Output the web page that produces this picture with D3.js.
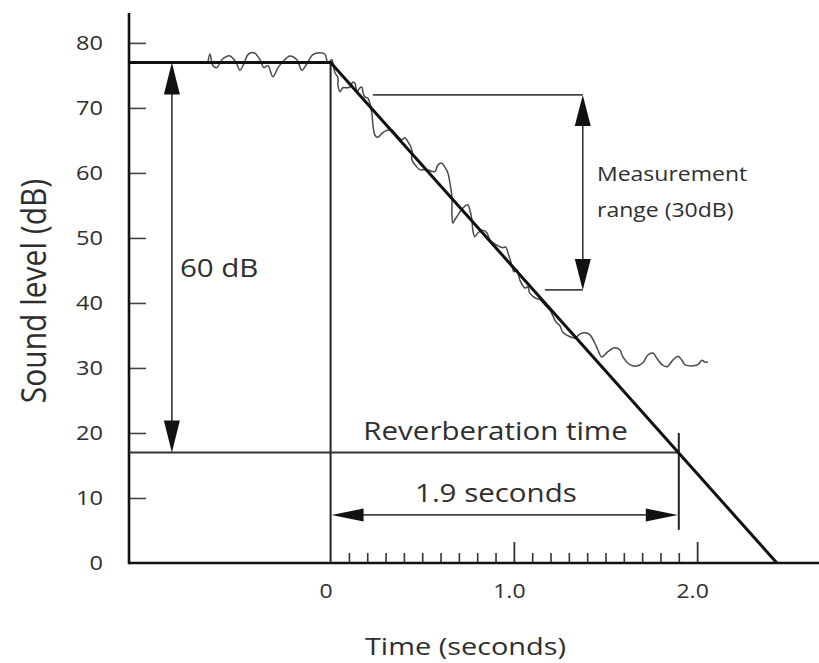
<!DOCTYPE html>
<html><head><meta charset="utf-8">
<script src="https://cdn.jsdelivr.net/npm/d3@7"></script>
<style>
body{margin:0;background:#fff}
text{font-family:"Open Sans",sans-serif;fill:#2e2e2e}
</style>
</head><body>
<svg id="chart" width="819" height="663"></svg>
<script>
// ---------- data ----------
const yTickValues = [10, 20, 30, 40, 50, 60, 70, 80];
const yLabelValues = [0, 10, 20, 30, 40, 50, 60, 70, 80];
const xLabelValues = [0, 1, 2];
const xLabelTexts = ["0", "1.0", "2.0"];
const xMinorTicks = [0.1,0.2,0.3,0.4,0.5,0.6,0.7,0.8,0.9,1.1,1.2,1.3,1.4,1.5,1.6,1.7,1.8,1.9];
const xMajorTicks = [1.0, 2.0];

// idealised decay (seconds, dB)
const decayT  = [-1.1, 0, 2.435];
const decayDb = [77, 77, 0];

// measured (noisy) sound level trace
const traceT = [-0.669,-0.658,-0.642,-0.620,-0.593,-0.549,-0.516,-0.495,-0.473,-0.451,-0.418,-0.385,-0.364,-0.342,-0.315,-0.287,-0.260,-0.222,-0.184,-0.157,-0.129,-0.097,-0.058,-0.031,-0.015,
  0.007,0.013,0.023,0.040,0.040,0.051,0.067,0.089,0.105,0.122,0.133,0.144,0.160,0.171,0.176,0.187,0.204,0.225,0.231,0.242,0.258,0.285,0.313,0.334,0.362,0.389,0.405,0.422,0.444,0.444,0.465,0.487,0.525,0.569,0.585,0.607,0.624,0.640,0.651,0.662,0.662,0.667,0.678,0.694,0.722,0.749,0.760,0.771,0.776,0.787,0.804,0.831,0.853,0.869,0.907,0.940,0.956,0.967,0.989,1.000,1.016,1.033,1.060,1.076,1.087,1.115,1.142,1.169,1.196,1.213,1.229,1.251,1.267,1.306,1.333,1.360,1.387,1.415,1.442,1.458,1.480,1.513,1.551,1.578,1.595,1.633,1.671,1.704,1.731,1.759,1.780,1.808,1.835,1.868,1.895,1.917,1.933,1.971,2.004,2.026,2.042,2.059];
const traceDb = [77.1,78.3,76.5,76.2,77.4,78.0,77.0,75.8,76.8,78.2,78.5,77.4,76.2,76.5,74.8,76.2,77.1,78.0,77.4,75.8,76.8,78.2,78.5,78.3,77.0,
  77.4,76.9,75.5,74.6,73.5,72.5,73.1,73.1,73.2,74.0,73.8,72.5,73.1,73.2,72.5,71.7,71.5,69.2,67.4,65.8,65.5,66.2,66.6,66.6,65.8,65.1,65.4,64.8,63.5,62.0,61.1,60.5,60.5,60.2,61.2,61.5,60.9,60.0,58.5,56.3,53.8,52.3,52.8,53.5,54.6,55.1,54.3,52.8,51.2,50.2,50.8,51.2,50.8,49.7,48.9,48.5,48.6,47.8,45.8,44.8,45.1,43.5,42.3,42.5,41.5,40.8,40.5,39.7,38.9,38.0,37.1,36.5,35.5,34.8,34.6,35.2,35.4,35.1,33.8,32.8,31.7,32.5,33.1,32.8,31.7,30.5,30.3,30.8,32.0,32.3,31.5,30.5,30.2,31.2,31.8,31.2,30.5,30.3,30.5,31.2,30.9,30.9];

// annotation values
const startLevel = 77, endLevel = 17;          // 60 dB drop
const rtSeconds = 1.9;                          // reverberation time
const measTop = 72, measBottom = 42;            // 30 dB measurement range
const arrow60T = -0.866, measArrowT = 1.376, measTopStartT = 0.231, measBottomStartT = 1.169;
const rtArrowDb = 7.4;

// ---------- scales ----------
const W = 819, H = 663, SX = 1.18;
const x = d3.scaleLinear().domain([-1.1, 2.665]).range([129, 819]);
const y = d3.scaleLinear().domain([0, 84.6]).range([563, 13]);

const svg = d3.select("#chart");

function stretchText(sel){
  sel.each(function(){
    const t = d3.select(this);
    const tx = +t.attr("x") || 0, ty = +t.attr("y") || 0;
    t.attr("x", 0).attr("y", 0).attr("transform", `translate(${tx},${ty}) scale(${SX},1)`);
  });
}
function label(px, py, str, size, anchor, rot){
  const g = svg.append("g").attr("transform", `translate(${px},${py}) scale(${SX},1)` + (rot ? ` rotate(${rot})` : ""));
  g.append("text").attr("text-anchor", anchor).style("font-size", size + "px").text(str);
}
function arrowHead(tipX, tipY, dirX, dirY, len, half){
  const bx = tipX - dirX*len, by = tipY - dirY*len;
  const nx = -dirY, ny = dirX;
  svg.append("path")
    .attr("d", `M${tipX},${tipY}L${bx+nx*half},${by+ny*half}L${bx-nx*half},${by-ny*half}Z`)
    .attr("fill", "#111");
}

// ---------- axes ----------
const yAxis = d3.axisLeft(y).tickValues(yLabelValues).tickSizeInner(0).tickSizeOuter(0).tickPadding(26)
  .tickFormat(d3.format("d"));
const gy = svg.append("g").attr("transform", `translate(${x(-1.1)},0)`).call(yAxis);
gy.select(".domain").remove();
gy.selectAll("text").style("font-size", "20px").attr("fill", "#2e2e2e").style("font-family", null);
stretchText(gy.selectAll("text"));

const yTicks = d3.axisRight(y).tickValues(yTickValues).tickSizeInner(17).tickSizeOuter(0).tickFormat("");
const gyt = svg.append("g").attr("transform", `translate(${x(-1.1)},0)`).call(yTicks);
gyt.select(".domain").remove();
gyt.selectAll("line").attr("stroke", "#444").attr("stroke-width", 1.6);

const xMinor = d3.axisBottom(x).tickValues(xMinorTicks).tickSizeInner(-10).tickSizeOuter(0).tickFormat("");
const gxm = svg.append("g").attr("transform", `translate(0,${y(0)})`).call(xMinor);
gxm.select(".domain").remove();
gxm.selectAll("line").attr("stroke", "#333").attr("stroke-width", 1.6);

const xMajor = d3.axisBottom(x).tickValues(xMajorTicks).tickSizeInner(-21).tickSizeOuter(0).tickFormat("");
const gxM = svg.append("g").attr("transform", `translate(0,${y(0)})`).call(xMajor);
gxM.select(".domain").remove();
gxM.selectAll("line").attr("stroke", "#333").attr("stroke-width", 1.8);

const xLab = d3.axisBottom(x).tickValues(xLabelValues).tickSize(0).tickPadding(21)
  .tickFormat((d,i) => xLabelTexts[i]);
const gxl = svg.append("g").attr("transform", `translate(-5,${y(0)})`).call(xLab);
gxl.select(".domain").remove();
gxl.selectAll("text").style("font-size", "19.5px").attr("fill", "#2e2e2e").style("font-family", null);
stretchText(gxl.selectAll("text"));

// axis lines
svg.append("line").attr("x1", x(-1.1)).attr("x2", x(-1.1)).attr("y1", y(0)+1.2).attr("y2", y(84.6))
  .attr("stroke", "#111").attr("stroke-width", 2.6);
svg.append("line").attr("x1", x(-1.1)).attr("x2", W).attr("y1", y(0)).attr("y2", y(0))
  .attr("stroke", "#111").attr("stroke-width", 2.6);

// ---------- reference lines ----------
svg.append("line").attr("x1", x(0)).attr("x2", x(0)).attr("y1", y(startLevel)).attr("y2", y(0))
  .attr("stroke", "#222").attr("stroke-width", 2);
svg.append("line").attr("x1", x(-1.1)).attr("x2", x(rtSeconds)).attr("y1", y(endLevel)).attr("y2", y(endLevel))
  .attr("stroke", "#333").attr("stroke-width", 2);
svg.append("line").attr("x1", x(rtSeconds)).attr("x2", x(rtSeconds)).attr("y1", y(20)).attr("y2", y(5.1))
  .attr("stroke", "#222").attr("stroke-width", 2);

// measurement range bracket
svg.append("line").attr("x1", x(measTopStartT)).attr("x2", x(measArrowT)).attr("y1", y(measTop)).attr("y2", y(measTop))
  .attr("stroke", "#444").attr("stroke-width", 1.8);
svg.append("line").attr("x1", x(measBottomStartT)).attr("x2", x(measArrowT)).attr("y1", y(measBottom)).attr("y2", y(measBottom))
  .attr("stroke", "#444").attr("stroke-width", 1.8);
svg.append("line").attr("x1", x(measArrowT)).attr("x2", x(measArrowT)).attr("y1", y(measTop)+20).attr("y2", y(measBottom)-20)
  .attr("stroke", "#333").attr("stroke-width", 1.6);
arrowHead(x(measArrowT), y(measTop), 0, -1, 31, 8);
arrowHead(x(measArrowT), y(measBottom), 0, 1, 31, 8);

// 60 dB arrow
svg.append("line").attr("x1", x(arrow60T)).attr("x2", x(arrow60T)).attr("y1", y(startLevel)+20).attr("y2", y(endLevel)-20)
  .attr("stroke", "#333").attr("stroke-width", 1.6);
arrowHead(x(arrow60T), y(startLevel), 0, -1, 32, 8);
arrowHead(x(arrow60T), y(endLevel), 0, 1, 32, 8);

// 1.9 seconds arrow
svg.append("line").attr("x1", x(0)+20).attr("x2", x(rtSeconds)-20).attr("y1", y(rtArrowDb)).attr("y2", y(rtArrowDb))
  .attr("stroke", "#444").attr("stroke-width", 1.6);
arrowHead(x(0)+1, y(rtArrowDb), -1, 0, 32, 6.5);
arrowHead(x(rtSeconds)-1, y(rtArrowDb), 1, 0, 32, 6.5);

// ---------- noisy trace ----------
const traceLine = d3.line().x(d => x(d[0])).y(d => y(d[1])).curve(d3.curveCatmullRom.alpha(0.5));
svg.append("path").attr("d", traceLine(traceT.map((t,i) => [t, traceDb[i]])))
  .attr("fill", "none").attr("stroke", "#4a4a4a").attr("stroke-width", 1.5).attr("stroke-linejoin", "round");

// ---------- idealised decay ----------
const decayLine = d3.line().x(d => x(d[0])).y(d => y(d[1]));
svg.append("path").attr("d", decayLine(decayT.map((t,i) => [t, decayDb[i]])))
  .attr("fill", "none").attr("stroke", "#111").attr("stroke-width", 3).attr("stroke-linejoin", "miter");

// ---------- texts ----------
label(x(arrow60T)+8, y(44), "60 dB", 25, "start");
label(x(0.9), y(endLevel)-12, "Reverberation time", 25, "middle");
label(x(0.902), y(rtArrowDb)-13, "1.9 seconds", 25, "middle");
label(597, 181, "Measurement", 19.5, "start");
label(597, 217, "range (30dB)", 19.5, "start");
label(465.5, 655, "Time (seconds)", 24.5, "middle");
label(46, 291, "Sound level (dB)", 30, "middle", -90);
</script>
</body></html>
